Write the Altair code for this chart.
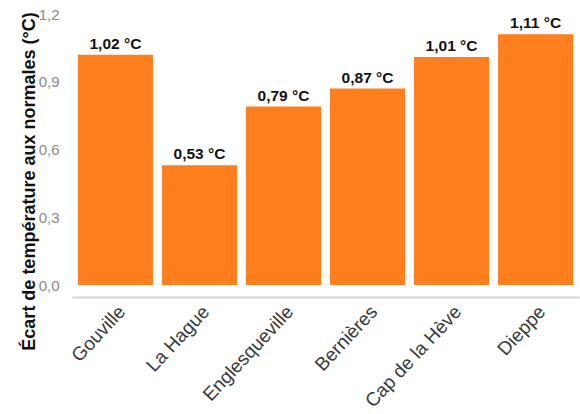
import altair as alt
import pandas as pd

# Temperature anomaly per weather station (°C)
stations = ["Gouville", "La Hague", "Englesqueville", "Bernières", "Cap de la Hève", "Dieppe"]
anomalies = [1.02, 0.53, 0.79, 0.87, 1.01, 1.11]
y_ticks = [0.0, 0.3, 0.6, 0.9, 1.2]

df = pd.DataFrame({"station": stations, "anomaly": anomalies})

FONT = "Liberation Sans"
ORANGE = "#FF7F1F"

x_enc = alt.X(
    "station:N",
    sort=stations,
    scale=alt.Scale(paddingInner=0.107, paddingOuter=0.07),
    axis=alt.Axis(
        title=None,
        labelAngle=-47,
        labelAlign="right",
        labelBaseline="top",
        labelFont=FONT,
        labelFontSize=19,
        labelColor="#3a3a3a",
        labelPadding=5,
        ticks=False,
        domain=True,
        domainColor="#d4d4d4",
        domainWidth=2,
        offset=12,
    ),
)

y_enc = alt.Y(
    "anomaly:Q",
    scale=alt.Scale(domain=[0, 1.2], nice=False, zero=True),
    axis=alt.Axis(
        title="Écart de température aux normales (°C)",
        titleFont=FONT,
        titleFontSize=18,
        titleFontWeight="bold",
        titleColor="#111111",
        titleX=-34,
        titleY=167,
        titleAngle=-90,
        titleBaseline="bottom",
        titleAlign="center",
        values=y_ticks,
        labelExpr="replace(format(datum.value, '.1f'), '.', ',')",
        labelFont=FONT,
        labelFontSize=15,
        labelColor="#8a8a8a",
        labelPadding=13,
        ticks=False,
        domain=False,
        grid=False,
    ),
)

bars = alt.Chart(df).mark_bar(color=ORANGE).encode(x=x_enc, y=y_enc)

labels = (
    alt.Chart(df)
    .transform_calculate(
        label="replace(format(datum.anomaly, '.2f'), '.', ',') + ' °C'"
    )
    .mark_text(
        font=FONT,
        fontSize=15.5,
        fontWeight="bold",
        color="#111111",
        baseline="bottom",
        dy=-3,
    )
    .encode(
        x=alt.X("station:N", sort=stations),
        y=alt.Y("anomaly:Q"),
        text="label:N",
    )
)

chart = (
    alt.layer(bars, labels)
    .properties(
        width=507,
        height=271,
        autosize=alt.AutoSizeParams(type="none"),
        padding={"left": 72, "top": 14, "right": 1, "bottom": 129},
        background="white",
    )
    .configure_view(stroke=None)
)

chart.save("out.html", embed_options={"renderer": "svg", "actions": False})
